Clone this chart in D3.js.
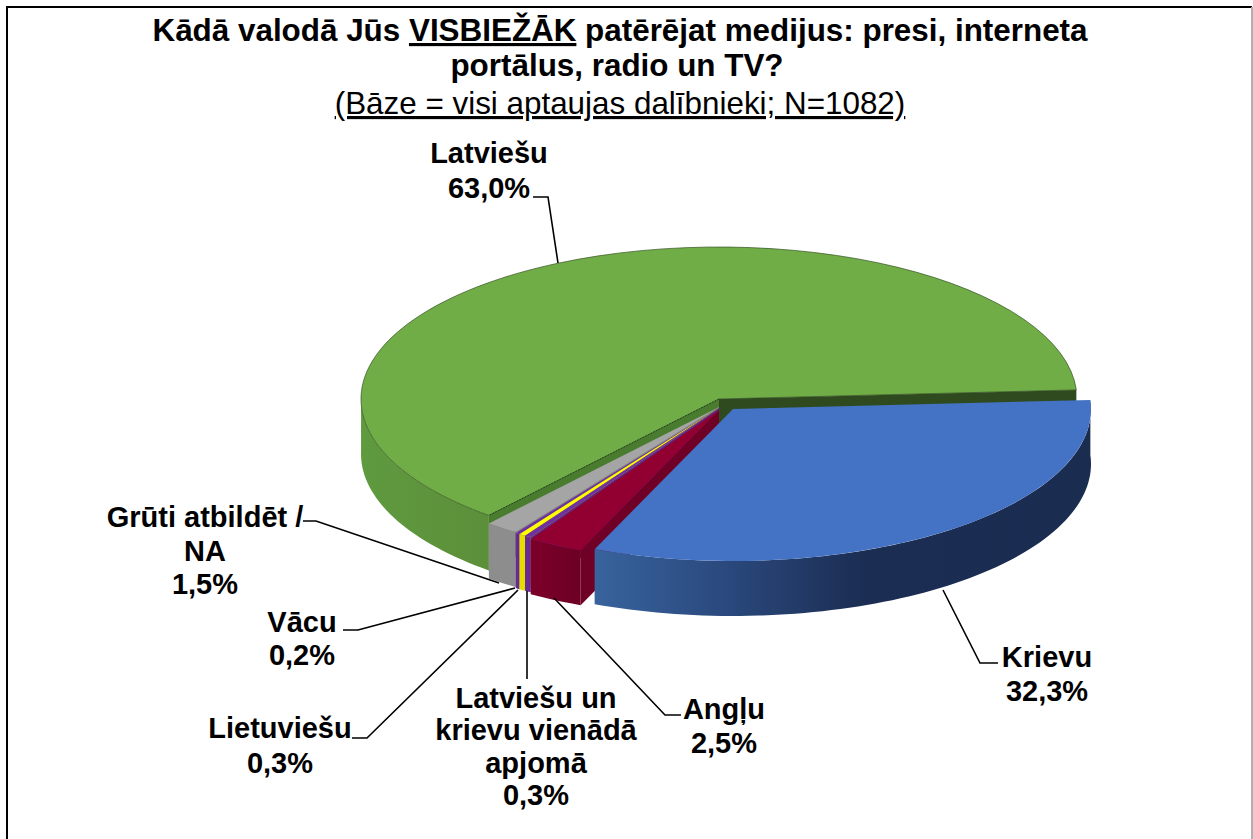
<!DOCTYPE html>
<html><head><meta charset="utf-8">
<script src="https://cdn.jsdelivr.net/npm/d3@7"></script>
<style>
html,body{margin:0;padding:0;background:#fff}
svg{display:block}
text{font-family:"Liberation Sans",Arial,sans-serif;fill:#000;text-decoration-skip-ink:none}
</style></head><body>
<svg id="c" width="1253" height="839"></svg>
<script>
// ---- data ----
const categories = ["Latviešu","Krievu","Angļu","Latviešu un krievu vienādā apjomā","Lietuviešu","Vācu","Grūti atbildēt / NA"];
const values = [63.0,32.3,2.5,0.3,0.3,0.2,1.5];
const valueLabels = ["63,0%","32,3%","2,5%","0,3%","0,3%","0,2%","1,5%"];
const labelLines = [["Latviešu"],["Krievu"],["Angļu"],["Latviešu un","krievu vienādā","apjomā"],["Lietuviešu"],["Vācu"],["Grūti atbildēt /","NA"]];
// ---- style ----
const topColors  = ["#70ad47","#4472c4","#920031","#7030a0","#ffff00","#7030a0","#a5a5a5"];
const wallColors = ["url(#gGreen)","url(#gBlue)","url(#gRed)","#662b92","#e6dc00","#662b92","#8d8d8d"];
const faceColors = ["#4a7c2f","#2f5597","#6f0026","#5c2785","#d8d000","#5c2785","#8d8d8d"];
const offsets = [[0,0],[14,10],[0,11],[0,9],[0,9],[0,9],[0,8]];
const labelPos = [[489,163,35],[1047,667,34],[724,719,34],[536,708,32.3],[280,738,35],[302,632,33],[205,527,33.5]];
const leaders = [
 [[533,197],[548,197],[558,263]],
 [[998,663],[980,663],[943,590]],
 [[681,715],[665,715],[554,598]],
 [[527,679],[527,591]],
 [[352,738],[367,738],[518,590]],
 [[343,630],[358,630],[515,588]],
 [[303,521],[316,521],[499,583]]
];
const W=1253,H=839,cx=719,cy=399,rx=358,ry=152,depth=55;
const svg=d3.select("#c");
const defs=svg.append("defs");
function grad(id,x1,x2,stops){
  const g=defs.append("linearGradient").attr("id",id).attr("gradientUnits","userSpaceOnUse")
    .attr("x1",x1).attr("x2",x2).attr("y1",0).attr("y2",0);
  stops.forEach(s=>g.append("stop").attr("offset",s[0]).attr("stop-color",s[1]));
}
grad("gGreen",361,490,[[0,"#5f9a3f"],[1,"#5c8f39"]]);
grad("gBlue",595,1090,[[0,"#38639d"],[0.25,"#2b4a7f"],[0.55,"#1b2d52"],[1,"#1a2c50"]]);
grad("gRed",530,600,[[0,"#7c002a"],[1,"#680022"]]);

svg.append("rect").attr("width",W).attr("height",H).attr("fill","#fff");
svg.append("path").attr("d","M7,839V7H1252").attr("fill","none").attr("stroke","#000").attr("stroke-width",2);
svg.append("path").attr("d","M1252,7V839").attr("fill","none").attr("stroke","#b0b0b0").attr("stroke-width",2);

const deg=Math.PI/180;
const pie=d3.pie().sort(null).startAngle(220*deg).endAngle(580*deg);
const arcs=pie(values);
const arc=d3.arc().innerRadius(0).outerRadius(rx);
const line=d3.line();
const P=(i,a,z=0)=>[cx+offsets[i][0]+rx*Math.sin(a), cy+offsets[i][1]-ry*Math.cos(a)+z];
const A=(i,z=0)=>[cx+offsets[i][0], cy+offsets[i][1]+z];

function face(i,a){ return line([A(i),P(i,a),P(i,a,depth),A(i,depth)])+"Z"; }
function wall(i,a0,a1){
  const n=Math.max(2,Math.ceil((a1-a0)/(deg*1.5)));
  const as=d3.range(n+1).map(k=>a0+(a1-a0)*k/n);
  return line(as.map(a=>P(i,a)).concat(as.slice().reverse().map(a=>P(i,a,depth))))+"Z";
}
function topFace(i){
  return svg.append("path").attr("d",arc(arcs[i]))
    .attr("transform",`translate(${cx+offsets[i][0]},${cy+offsets[i][1]}) scale(1,${ry/rx})`)
    .attr("fill",topColors[i]);
}
// green slice (back)
svg.append("path").attr("d",wall(0,arcs[0].startAngle,271*deg)).attr("fill",wallColors[0]);
topFace(0).attr("stroke","#33521f").attr("stroke-width",0.7).attr("vector-effect","non-scaling-stroke");
svg.append("path").attr("d",face(0,arcs[0].endAngle)).attr("fill","#2e4a1e");
svg.append("path").attr("d",face(0,arcs[0].startAngle)).attr("fill",faceColors[0]);
svg.append("path").attr("d",line([A(0),P(0,arcs[0].startAngle)])).attr("stroke","#24401a").attr("stroke-width",1).attr("stroke-dasharray","2 1");
// small slices, from the back to the front
[6,5,4,3,2].forEach(i=>{
  const d=arcs[i];
  svg.append("path").attr("d",face(i,d.startAngle)).attr("fill",faceColors[i]);
  svg.append("path").attr("d",wall(i,d.startAngle,d.endAngle)).attr("fill",wallColors[i]);
  topFace(i);
});
// blue slice (front)
svg.append("path").attr("d",wall(1,arcs[1].startAngle,arcs[1].endAngle)).attr("fill",wallColors[1]);
topFace(1);

// leaders
leaders.forEach(l=>svg.append("path").attr("d",line(l)).attr("fill","none").attr("stroke","#000").attr("stroke-width",1.6));

// labels
const fs=29;
categories.forEach((c,i)=>{
  const [x,y,dy]=labelPos[i];
  labelLines[i].concat([valueLabels[i]]).forEach((t,k)=>{
    svg.append("text").attr("x",x).attr("y",y+k*dy).attr("text-anchor","middle")
      .attr("font-size",fs).attr("font-weight","bold").text(t);
  });
});

// title
const tfs=31.4;
const t1=svg.append("text").attr("x",620).attr("y",41).attr("text-anchor","middle").attr("font-size",tfs).attr("font-weight","bold");
t1.append("tspan").text("Kādā valodā Jūs ");
t1.append("tspan").attr("text-decoration","underline").text("VISBIEŽĀK");
t1.append("tspan").text(" patērējat medijus: presi, interneta");
svg.append("text").attr("x",617).attr("y",76).attr("text-anchor","middle").attr("font-size",tfs).attr("font-weight","bold").text("portālus, radio un TV?");
svg.append("text").attr("x",620).attr("y",114).attr("text-anchor","middle").attr("font-size",tfs).attr("text-decoration","underline").text("(Bāze = visi aptaujas dalībnieki; N=1082)");
</script>
</body></html>
